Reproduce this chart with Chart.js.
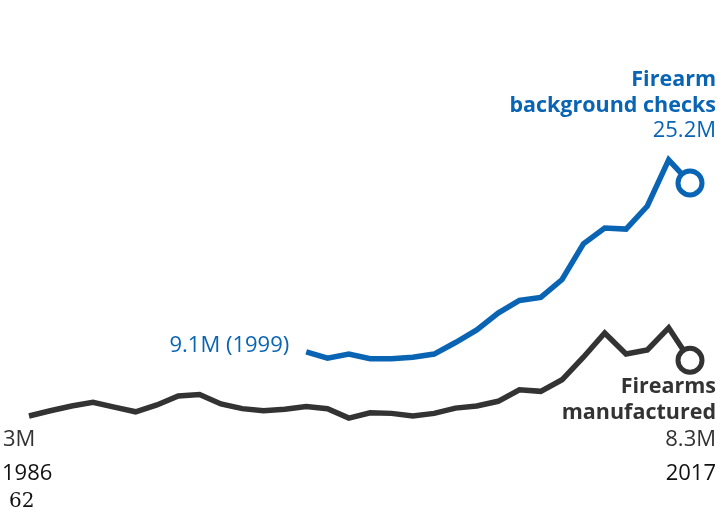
<!DOCTYPE html>
<html>
<head>
<meta charset="utf-8">
<script src="https://cdn.jsdelivr.net/npm/chart.js@4/dist/chart.umd.min.js"></script>
<style>
  html, body { margin: 0; padding: 0; background: #fff; }
  #wrap { width: 717px; height: 507px; position: relative; }
</style>
</head>
<body>
<div id="wrap"><canvas id="lineChart"></canvas></div>
<script>
const years = [1986, 1987, 1988, 1989, 1990, 1991, 1992, 1993, 1994, 1995, 1996, 1997, 1998, 1999, 2000, 2001,
               2002, 2003, 2004, 2005, 2006, 2007, 2008, 2009, 2010, 2011, 2012, 2013, 2014, 2015, 2016, 2017];
// millions
const manufactured = [3.0, 3.5, 3.95, 4.3, 3.85, 3.4, 4.05, 4.9, 5.05, 4.15, 3.7, 3.5, 3.65, 3.9, 3.7, 2.8,
                      3.3, 3.25, 3.0, 3.25, 3.75, 3.95, 4.4, 5.5, 5.35, 6.45, 8.6, 10.9, 8.9, 9.3, 11.4, 8.3];
const checks = [null, null, null, null, null, null, null, null, null, null, null, null, null, 9.1, 8.5, 8.9,
                8.45, 8.45, 8.6, 8.9, 10.0, 11.2, 12.8, 14.0, 14.3, 16.0, 19.4, 20.9, 20.8, 23.0, 27.4, 25.2];

const blue = '#0a64b4';
const dark = '#333333';
const fontFam = '"Open Sans", sans-serif';

const last = years.length - 1;
const lastOnly = (n) => (ctx) => ctx.dataIndex === last ? n : 0;

const labels = {
  id: 'labels',
  afterDatasetsDraw(chart) {
    const c = chart.ctx;
    const x = chart.scales.x, y = chart.scales.y;
    const i99 = years.indexOf(1999);
    c.save();
    c.textBaseline = 'alphabetic';

    // background checks
    c.fillStyle = blue;
    c.textAlign = 'right';
    c.font = 'bold 21.5px ' + fontFam;
    c.fillText('Firearm', 716, 86);
    c.fillText('background checks', 716, 112);
    c.font = '22px ' + fontFam;
    c.fillText('25.2M', 716, 137);
    c.fillText('9.1M (1999)', x.getPixelForValue(i99) - 17, y.getPixelForValue(checks[i99]));

    // manufactured
    c.fillStyle = dark;
    c.font = 'bold 21.5px ' + fontFam;
    c.fillText('Firearms', 716, 393);
    c.fillText('manufactured', 716, 419);
    c.font = '22px ' + fontFam;
    c.fillText('8.3M', 716, 446);
    c.fillStyle = '#111';
    c.fillText(String(years[last]), 716, 480);

    c.textAlign = 'left';
    c.fillStyle = dark;
    c.fillText('3M', 3, 446);
    c.fillStyle = '#111';
    c.fillText(String(years[0]), 2, 480);
    c.font = '20px "DejaVu Serif", "Liberation Serif", serif';
    c.fillText('62', 9, 507);
    c.restore();
  }
};

const line = document.getElementById('lineChart').getContext('2d');
const lineChart = new Chart(line, {
  type: 'line',
  data: {
    labels: years,
    datasets: [{
      data: checks,
      borderColor: blue,
      backgroundColor: '#fff',
      borderWidth: 5.5,
      tension: 0,
      pointRadius: lastOnly(12),
      pointBorderWidth: 5,
      pointBorderColor: blue,
      clip: false
    }, {
      data: manufactured,
      borderColor: dark,
      backgroundColor: '#fff',
      borderWidth: 5.5,
      tension: 0,
      pointRadius: lastOnly(12),
      pointBorderWidth: 5,
      pointBorderColor: dark,
      clip: false
    }]
  },
  options: {
    responsive: true,
    maintainAspectRatio: false,
    animation: false,
    layout: { padding: { left: 29, right: 27, top: 27.5, bottom: 59.5 } },
    scales: {
      x: { display: false, offset: false },
      y: { display: false, min: 0, max: 40 }
    },
    plugins: { legend: { display: false }, tooltip: { enabled: false } }
  },
  plugins: [labels]
});
</script>
</body>
</html>
